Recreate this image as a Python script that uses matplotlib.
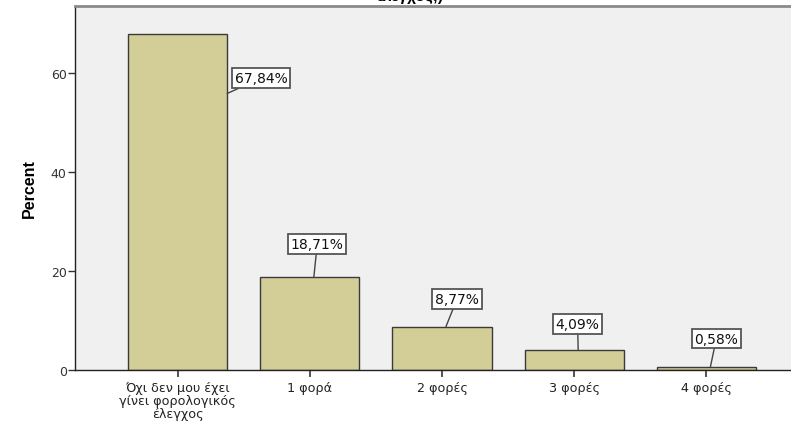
import matplotlib
matplotlib.use("Agg")
import matplotlib.pyplot as plt

# data
categories = ["Όχι δεν μου έχει\nγίνει φορολογικός\nέλεγχος", "1 φορά", "2 φορές", "3 φορές", "4 φορές"]
percents = [67.84, 18.71, 8.77, 4.09, 0.58]
value_labels = ["67,84%", "18,71%", "8,77%", "4,09%", "0,58%"]

# label box offsets (points) relative to the anchor on each bar
label_offsets = [(24.5, 11), (2.5, 24), (8, 20), (-0.4, 18.6), (4.3, 20.5)]

plt.rcParams["font.family"] = ["DejaVu Sans"]

W, H = 791, 427
fig = plt.figure(figsize=(W / 100, H / 100), dpi=100, facecolor="white")
ax = fig.add_axes([75 / W, (H - 371) / H, (W - 75) / W + 0.01, (371 - 7) / H])
ax.set_facecolor("#f0f0f0")

x = list(range(len(categories)))
ax.bar(x, percents, width=0.75, color="#d3ce97", edgecolor="#3a3a3a", linewidth=1.0, zorder=2)

ax.set_xlim(-0.7765, 4.70)
ax.set_ylim(0, 73.5)
ax.set_yticks([0, 20, 40, 60])
ax.set_xticks(x)
ax.set_xticklabels(categories, fontsize=9.2, color="#222222", linespacing=1.0)
ax.tick_params(axis="y", labelsize=9, labelcolor="#333333", length=5, width=1, color="#333333", pad=1)
ax.tick_params(axis="x", length=5, width=1.2, color="#333333", pad=3)
ax.set_ylabel("Percent", fontsize=11.5, fontweight="bold", family=["Liberation Sans", "DejaVu Sans"], labelpad=10)

for side in ["left", "bottom"]:
    ax.spines[side].set_color("#222222")
    ax.spines[side].set_linewidth(1.0)
ax.spines["top"].set_color("#8a8a8a")
ax.spines["top"].set_linewidth(2)
ax.spines["right"].set_visible(False)

for xi, val, lab, off in zip(x, percents, value_labels, label_offsets):
    # the first label hangs off the bar's right edge, the others sit above the bar
    anchor = (xi + 0.375, val - 12) if xi == 0 else (xi + 0.03, val)
    ax.annotate(
        lab,
        xy=anchor,
        xytext=off,
        textcoords="offset points",
        ha="center",
        va="center",
        fontsize=10,
        color="#111111",
        bbox=dict(boxstyle="square,pad=0.2", facecolor="white", edgecolor="#555555", linewidth=1.3),
        arrowprops=dict(arrowstyle="-", color="#444444", linewidth=1.0, shrinkA=0, shrinkB=0),
        zorder=4,
    )

# title is clipped by the top edge in the reference
fig.text(410 / W, 1 - 1 / H, "έλεγχος;)", ha="center", va="baseline", fontsize=11, fontweight="bold",
         family=["Liberation Sans", "DejaVu Sans"])

fig.savefig("out.png", dpi=100, facecolor="white")
